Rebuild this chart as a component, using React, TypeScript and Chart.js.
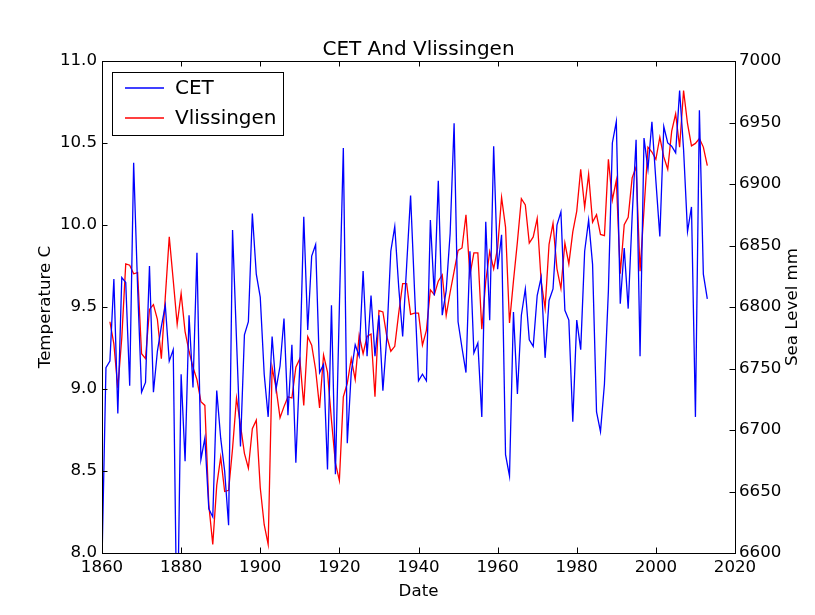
import { useEffect, useRef } from 'react';
import { Chart, registerables } from 'chart.js';

Chart.register(...registerables);

// ---- Data ----
const CET_START_YEAR = 1860;
const cetValues = [
  7.95, 9.13, 9.17, 9.67, 8.85, 9.68, 9.65, 9.02, 10.38, 9.62, // 1860-1869
  8.98, 9.04, 9.75, 8.98, 9.23, 9.38, 9.51, 9.17, 9.24, 7.41, // 1870-1879
  9.09, 8.56, 9.45, 9.01, 9.83, 8.57, 8.70, 8.27, 8.22, 8.99, // 1880-1889
  8.70, 8.50, 8.17, 9.97, 9.30, 8.65, 9.33, 9.41, 10.07, 9.70, // 1890-1899
  9.56, 9.09, 8.83, 9.32, 9.00, 9.14, 9.43, 8.84, 9.27, 8.55, // 1900-1909
  9.15, 10.05, 9.36, 9.81, 9.88, 9.10, 9.15, 8.51, 9.51, 8.48, // 1910-1919
  9.50, 10.47, 8.67, 9.10, 9.27, 9.20, 9.72, 9.20, 9.57, 9.20, // 1920-1929
  9.45, 8.99, 9.32, 9.84, 9.99, 9.62, 9.32, 9.75, 10.18, 9.60, // 1930-1939
  9.05, 9.09, 9.05, 10.03, 9.57, 10.27, 9.45, 9.60, 9.95, 10.62, // 1940-1949
  9.41, 9.25, 9.10, 9.84, 9.22, 9.28, 8.83, 10.02, 9.42, 10.48, // 1950-1959
  9.73, 9.94, 8.60, 8.47, 9.47, 8.97, 9.45, 9.61, 9.30, 9.26, // 1960-1969
  9.57, 9.68, 9.19, 9.54, 9.61, 10.00, 10.08, 9.48, 9.42, 8.80, // 1970-1979
  9.42, 9.24, 9.84, 10.03, 9.76, 8.86, 8.74, 9.03, 9.60, 10.50, // 1980-1989
  10.63, 9.52, 9.86, 9.49, 10.05, 10.52, 9.20, 10.53, 10.34, 10.63, // 1990-1999
  10.27, 9.93, 10.60, 10.50, 10.48, 10.44, 10.82, 10.46, 9.96, 10.11, // 2000-2009
  8.83, 10.70, 9.70, 9.55, // 2010-2013
];

const VLIS_START_YEAR = 1862;
const vlissingenValues = [
  6788, 6770, 6734, 6775, 6835, 6834, 6827, 6828, // 1862-1869
  6762, 6758, 6798, 6802, 6790, 6758, 6808, 6857, 6822, 6786, // 1870-1879
  6811, 6780, 6764, 6751, 6741, 6723, 6720, 6639, 6607, 6655, // 1880-1889
  6678, 6650, 6651, 6685, 6726, 6704, 6681, 6669, 6701, 6708, // 1890-1899
  6653, 6623, 6607, 6751, 6734, 6710, 6719, 6727, 6726, 6751, // 1900-1909
  6758, 6720, 6776, 6769, 6749, 6718, 6761, 6747, 6708, 6673, // 1910-1919
  6659, 6727, 6738, 6758, 6741, 6777, 6762, 6776, 6778, 6727, // 1920-1929
  6797, 6796, 6776, 6764, 6768, 6795, 6819, 6819, 6794, 6795, // 1930-1939
  6795, 6769, 6781, 6814, 6810, 6821, 6826, 6793, 6812, 6829, // 1940-1949
  6846, 6848, 6875, 6826, 6844, 6844, 6782, 6821, 6845, 6831, // 1950-1959
  6848, 6889, 6865, 6787, 6821, 6853, 6888, 6883, 6852, 6857, // 1960-1969
  6872, 6821, 6799, 6851, 6868, 6831, 6815, 6852, 6835, 6861, // 1970-1979
  6878, 6912, 6881, 6908, 6869, 6875, 6859, 6858, 6920, 6887, // 1980-1989
  6903, 6827, 6867, 6873, 6905, 6914, 6829, 6879, 6930, 6926, // 1990-1999
  6920, 6938, 6922, 6912, 6943, 6957, 6930, 6976, 6949, 6931, // 2000-2009
  6933, 6937, 6930, 6915, // 2010-2013
];

const xTickValues = [1860, 1880, 1900, 1920, 1940, 1960, 1980, 2000, 2020];
const tempTickValues = [8.0, 8.5, 9.0, 9.5, 10.0, 10.5, 11.0];
const seaTickValues = [6600, 6650, 6700, 6750, 6800, 6850, 6900, 6950, 7000];

const TITLE = 'CET And Vlissingen';
const X_LABEL = 'Date';
const Y_LABEL = 'Temperature C';
const Y2_LABEL = 'Sea Level mm';
const CET_LABEL = 'CET';
const VLIS_LABEL = 'Vlissingen';

const FONT = '"DejaVu Sans", "Bitstream Vera Sans", sans-serif';
const TICK = 5.5;

const decorPlugin = {
  id: 'decor',
  afterDraw(chart: any) {
    const { ctx, chartArea: a, scales } = chart;
    ctx.save();
    ctx.strokeStyle = '#000';
    ctx.lineWidth = 1;
    // inward ticks
    ctx.beginPath();
    for (const t of scales.x.ticks) {
      const px = Math.round(scales.x.getPixelForValue(t.value)) + 0.5;
      ctx.moveTo(px, a.bottom);
      ctx.lineTo(px, a.bottom - TICK);
      ctx.moveTo(px, a.top);
      ctx.lineTo(px, a.top + TICK);
    }
    for (const t of scales.y.ticks) {
      const py = Math.round(scales.y.getPixelForValue(t.value)) + 0.5;
      ctx.moveTo(a.left, py);
      ctx.lineTo(a.left + TICK, py);
    }
    for (const t of scales.y2.ticks) {
      const py = Math.round(scales.y2.getPixelForValue(t.value)) + 0.5;
      ctx.moveTo(a.right, py);
      ctx.lineTo(a.right - TICK, py);
    }
    ctx.stroke();
    // frame
    ctx.strokeRect(Math.round(a.left) + 0.5, Math.round(a.top) + 0.5,
      Math.round(a.right - a.left), Math.round(a.bottom - a.top));

    ctx.fillStyle = '#000';
    // title
    ctx.font = `20px ${FONT}`;
    ctx.textAlign = 'center';
    ctx.textBaseline = 'alphabetic';
    ctx.fillText(TITLE, (a.left + a.right) / 2, a.top - 6);
    // axis labels
    ctx.font = `16.67px ${FONT}`;
    ctx.textBaseline = 'middle';
    ctx.fillText(X_LABEL, (a.left + a.right) / 2, 592);
    ctx.save();
    ctx.translate(46, (a.top + a.bottom) / 2);
    ctx.rotate(-Math.PI / 2);
    ctx.fillText(Y_LABEL, 0, 0);
    ctx.restore();
    ctx.save();
    ctx.translate(793, (a.top + a.bottom) / 2);
    ctx.rotate(-Math.PI / 2);
    ctx.fillText(Y2_LABEL, 0, 0);
    ctx.restore();

    // legend
    const lx = 112.5, ly = 72.5, lw = 171, lh = 63;
    ctx.fillStyle = '#fff';
    ctx.fillRect(lx, ly, lw, lh);
    ctx.strokeStyle = '#000';
    ctx.lineWidth = 1;
    ctx.strokeRect(lx, ly, lw, lh);
    const items = [
      { label: CET_LABEL, color: '#0000ff', y: 88 },
      { label: VLIS_LABEL, color: '#ff0000', y: 118 },
    ];
    ctx.font = `20px ${FONT}`;
    ctx.textAlign = 'left';
    ctx.textBaseline = 'middle';
    for (const it of items) {
      ctx.strokeStyle = it.color;
      ctx.lineWidth = 1.3;
      ctx.beginPath();
      ctx.moveTo(125, it.y);
      ctx.lineTo(164, it.y);
      ctx.stroke();
      ctx.fillStyle = '#000';
      ctx.fillText(it.label, 175, it.y + 1);
    }
    ctx.restore();
  },
};

export default function App() {
  const ref = useRef<HTMLCanvasElement | null>(null);

  useEffect(() => {
    if (!ref.current) return;
    const cetData = cetValues.map((v, i) => ({ x: CET_START_YEAR + i, y: v }));
    const vlisData = vlissingenValues.map((v, i) => ({ x: VLIS_START_YEAR + i, y: v }));
    const tickFont = { family: FONT, size: 16.67 };
    const hiddenGrid = {
      display: true,
      drawOnChartArea: false,
      drawTicks: false,
      color: 'rgba(0,0,0,0)',
    };
    const chart = new Chart(ref.current, {
      type: 'line',
      data: {
        datasets: [
          {
            label: CET_LABEL,
            data: cetData,
            borderColor: '#0000ff',
            backgroundColor: '#0000ff',
            borderWidth: 1.3,
            pointRadius: 0,
            tension: 0,
            yAxisID: 'y',
          },
          {
            label: VLIS_LABEL,
            data: vlisData,
            borderColor: '#ff0000',
            backgroundColor: '#ff0000',
            borderWidth: 1.3,
            pointRadius: 0,
            tension: 0,
            yAxisID: 'y2',
          },
        ],
      },
      options: {
        responsive: false,
        animation: false,
        devicePixelRatio: 1,
        layout: { padding: { top: 61, left: 0, right: 0, bottom: 0 } },
        plugins: {
          legend: { display: false },
          title: { display: false },
          tooltip: { enabled: false },
        },
        scales: {
          x: {
            type: 'linear',
            min: 1860,
            max: 2020,
            afterBuildTicks: (s: any) => {
              s.ticks = xTickValues.map((v) => ({ value: v }));
            },
            afterFit: (s: any) => {
              s.height = 62;
            },
            grid: hiddenGrid,
            border: { display: false },
            ticks: {
              font: tickFont,
              color: '#000',
              padding: 5,
              maxRotation: 0,
              autoSkip: false,
              callback: (v: any) => String(v),
            },
          },
          y: {
            type: 'linear',
            position: 'left',
            min: 8,
            max: 11,
            afterBuildTicks: (s: any) => {
              s.ticks = tempTickValues.map((v) => ({ value: v }));
            },
            afterFit: (s: any) => {
              s.width = 102;
            },
            grid: hiddenGrid,
            border: { display: false },
            ticks: {
              font: tickFont,
              color: '#000',
              padding: 5,
              autoSkip: false,
              callback: (v: any) => Number(v).toFixed(1),
            },
          },
          y2: {
            type: 'linear',
            position: 'right',
            min: 6600,
            max: 7000,
            afterBuildTicks: (s: any) => {
              s.ticks = seaTickValues.map((v) => ({ value: v }));
            },
            afterFit: (s: any) => {
              s.width = 80;
            },
            grid: hiddenGrid,
            border: { display: false },
            ticks: {
              font: tickFont,
              color: '#000',
              padding: 4,
              autoSkip: false,
              callback: (v: any) => String(v),
            },
          },
        },
      },
      plugins: [decorPlugin],
    } as any);
    return () => chart.destroy();
  }, []);

  return (
    <div style={{ position: 'fixed', left: 0, top: 0, width: 815, height: 615, background: '#fff' }}>
      <canvas ref={ref} width={815} height={615} style={{ width: 815, height: 615, display: 'block' }} />
    </div>
  );
}
